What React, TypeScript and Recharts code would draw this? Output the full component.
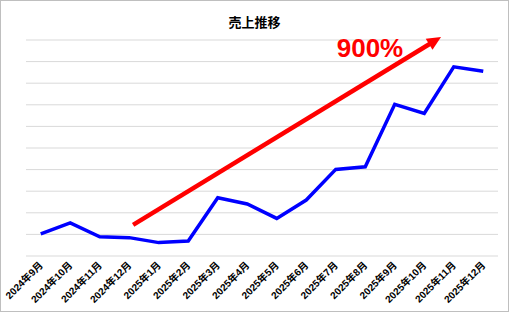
import React from 'react';
import {
  LineChart,
  Line,
  XAxis,
  YAxis,
  ReferenceLine,
  ReferenceDot,
} from 'recharts';

// ========================================
// DATA
// ========================================

const months = [
  '2024年9月', '2024年10月', '2024年11月', '2024年12月',
  '2025年1月', '2025年2月', '2025年3月', '2025年4月',
  '2025年5月', '2025年6月', '2025年7月', '2025年8月',
  '2025年9月', '2025年10月', '2025年11月', '2025年12月',
];

const sales = [
  1.02, 1.53, 0.89, 0.85, 0.62, 0.69, 2.7, 2.41,
  1.74, 2.59, 4.01, 4.13, 7.02, 6.6, 8.76, 8.55,
];

const yTicks = [0, 1, 2, 3, 4, 5, 6, 7, 8, 9, 10];

// growth arrow annotation (month slots on x, value units on y)
const arrowStart = { x: 3.63, y: 1.44 };
const arrowEnd = { x: 14.07, y: 10.14 };
const growthLabel = { x: 11.66, y: 9.2, text: '900%' };

// each month sits in the middle of its slot
const data = months.map((m, i) => ({ month: m, slot: i + 0.5, sales: sales[i] }));
const centerTicks = data.map((d) => d.slot);
const edgeTicks = [0, ...data.map((d) => d.slot + 0.5)];

// ========================================
// PIECES
// ========================================

const MonthTick = (props: any) => {
  const { x, y, payload } = props;
  const label = months[Math.floor(payload.value)];
  return (
    <text
      x={x}
      y={y}
      dy={4}
      textAnchor="end"
      transform={`rotate(-45, ${x}, ${y})`}
      fontSize={10}
      fontWeight={700}
      fill="#000"
      fontFamily="'Liberation Sans', 'Noto Sans CJK JP', sans-serif"
    >
      {label}
    </text>
  );
};

const Arrow = (props: any) => {
  const { x1, y1, x2, y2 } = props;
  const dx = x2 - x1;
  const dy = y2 - y1;
  const len = Math.sqrt(dx * dx + dy * dy);
  const ux = dx / len;
  const uy = dy / len;
  const head = 14;
  const half = 6.5;
  const bx = x2 - ux * head;
  const by = y2 - uy * head;
  return (
    <g>
      <line x1={x1} y1={y1} x2={bx + ux * 2} y2={by + uy * 2} stroke="#ff0000" strokeWidth={4.5} />
      <polygon
        points={`${x2},${y2} ${bx - uy * half},${by + ux * half} ${bx + uy * half},${by - ux * half}`}
        fill="#ff0000"
      />
    </g>
  );
};

export default function App() {
  return (
    <div
      style={{
        position: 'fixed',
        left: 0,
        top: 0,
        width: 509,
        height: 312,
        background: '#fff',
        fontFamily: "'Liberation Sans', 'Noto Sans CJK JP', sans-serif",
      }}
    >
      <div
        style={{
          position: 'absolute',
          left: 0,
          right: 0,
          top: 14,
          textAlign: 'center',
          fontSize: 13,
          fontWeight: 700,
          lineHeight: '16px',
          fontFamily: "'Noto Sans CJK JP', sans-serif",
        }}
      >
        売上推移
      </div>
      <LineChart
        width={509}
        height={312}
        data={data}
        margin={{ top: 40, right: 11, left: 26, bottom: 0 }}
      >
        <XAxis
          xAxisId="edge"
          dataKey="slot"
          type="number"
          domain={[0, months.length]}
          allowDataOverflow
          ticks={edgeTicks}
          interval={0}
          height={1}
          tick={false}
          tickSize={4}
          tickLine={{ stroke: '#d9d9d9' }}
          axisLine={{ stroke: '#d9d9d9' }}
        />
        <XAxis
          xAxisId="lab"
          dataKey="slot"
          type="number"
          domain={[0, months.length]}
          allowDataOverflow
          ticks={centerTicks}
          interval={0}
          height={55}
          axisLine={false}
          tickLine={false}
          tickSize={4}
          tickMargin={2}
          tick={<MonthTick />}
        />
        <YAxis
          yAxisId="v"
          width={0}
          type="number"
          domain={[0, 10]}
          allowDataOverflow
          ticks={yTicks}
          tick={false}
          axisLine={false}
          tickLine={false}
        />
        {yTicks.slice(1).map((t) => (
          <ReferenceLine
            key={t}
            xAxisId="edge"
            yAxisId="v"
            y={t}
            stroke="#d9d9d9"
            strokeWidth={1}
          />
        ))}
        <Line
          xAxisId="edge"
          yAxisId="v"
          type="linear"
          dataKey="sales"
          stroke="#0000ff"
          strokeWidth={3.5}
          dot={false}
          isAnimationActive={false}
        />
        <ReferenceLine
          xAxisId="edge"
          yAxisId="v"
          segment={[arrowStart, arrowEnd]}
          ifOverflow="visible"
          shape={<Arrow />}
        />
        <ReferenceDot
          xAxisId="edge"
          yAxisId="v"
          x={growthLabel.x}
          y={growthLabel.y}
          r={0}
          ifOverflow="visible"
          shape={(p: any) => (
            <text
              x={p.cx}
              y={p.cy}
              textAnchor="middle"
              fontSize={26}
              fontWeight={700}
              fill="#ff0000"
              fontFamily="'Liberation Sans', Arial, sans-serif"
            >
              {growthLabel.text}
            </text>
          )}
        />
      </LineChart>
      <div
        style={{
          position: 'absolute',
          left: 0,
          top: 0,
          width: 509,
          height: 312,
          boxSizing: 'border-box',
          border: '1px solid #bfbfbf',
          pointerEvents: 'none',
        }}
      />
    </div>
  );
}
